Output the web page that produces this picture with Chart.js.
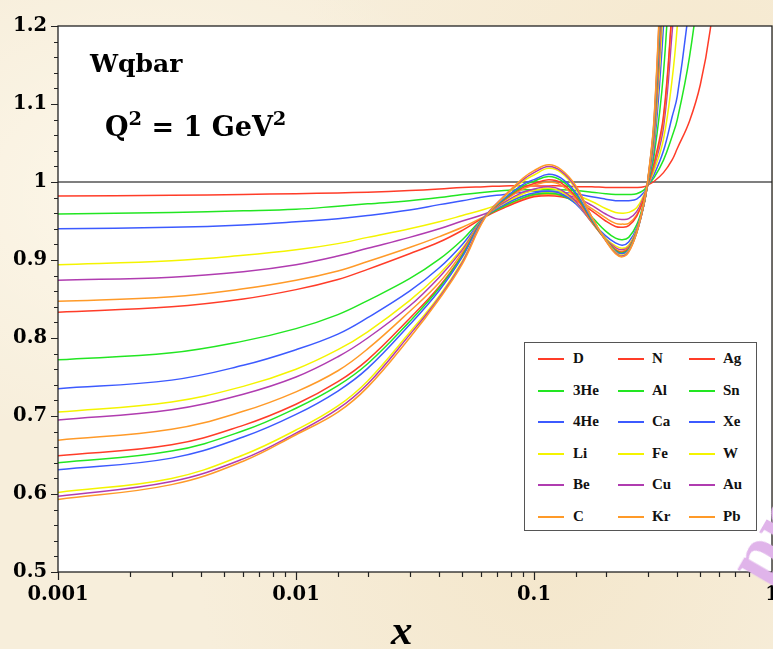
<!DOCTYPE html>
<html>
<head>
<meta charset="utf-8">
<script src="https://cdn.jsdelivr.net/npm/chart.js@4.4.1/dist/chart.umd.min.js"></script>
<style>
  html, body { margin: 0; padding: 0; }
  #wrap {
    position: relative; width: 773px; height: 649px; overflow: hidden;
    background-color: #f7eedb;
    background-image:
      radial-gradient(ellipse at 20% 30%, rgba(255,251,240,0.7), rgba(255,251,240,0) 40%),
      radial-gradient(ellipse at 70% 85%, rgba(242,226,194,0.6), rgba(242,226,194,0) 45%),
      radial-gradient(ellipse at 90% 10%, rgba(245,230,200,0.6), rgba(245,230,200,0) 40%);
    font-family: "DejaVu Serif", "Liberation Serif", serif;
  }
  canvas { position: absolute; left: 0; top: 0; }
  .ann { position: absolute; font-weight: bold; color: #000; white-space: nowrap; line-height: 1; }
  .ann sup { font-size: 0.72em; vertical-align: 0.55em; line-height: 0; }
  #legend { position: absolute; left: 524px; top: 342px; width: 233px; height: 189px;
            background: #fff; border: 1px solid #555; box-sizing: border-box;
            font-family: "Liberation Serif", serif; }
  .sw { position: absolute; height: 2px; width: 26px; }
  .lt { position: absolute; font-weight: bold; font-size: 15px; line-height: 1; color: #111; }
  #wm { position: absolute; left: 712px; top: 556px; color: #e0b4ea; font-weight: bold;
        font-family: "Liberation Serif", serif;
        font-size: 76px; line-height: 1; transform: rotate(-60deg); transform-origin: 0 0; }
</style>
</head>
<body>
<div id="wrap">
  <canvas id="c" width="773" height="649"></canvas>
  <div class="ann" id="t1" style="left:90px; top:51px; font-size:25px;">Wqbar</div>
  <div class="ann" id="t2" style="left:105px; top:113px; font-size:27px;">Q<sup>2</sup> = 1 GeV<sup>2</sup></div>
  <div class="ann" id="xt" style="left:391px; top:608px; font-size:43px; font-style:italic; font-family:'Liberation Serif', serif;">x</div>
  <div id="legend"></div>
  <div id="wm">pr</div>
</div>
<script>
// ---- data ----
const xs = [0.001, 0.003, 0.006, 0.01, 0.015, 0.02, 0.03, 0.04, 0.05, 0.062,
            0.075, 0.09, 0.1, 0.115, 0.13, 0.15, 0.175, 0.2, 0.22, 0.235,
            0.25, 0.27, 0.29, 0.3, 0.32, 0.35, 0.38, 0.4, 0.45, 0.5, 0.55, 0.6];

const D   = [0.982,0.983,0.984,0.985,0.986,0.987,0.989,0.991,0.993,0.994,
             0.995,0.995,0.995,0.995,0.995,0.994,0.994,0.993,0.993,0.993,
             0.993,0.993,0.994,0.996,1.001,1.012,1.028,1.043,1.078,1.125,1.195,1.30];
const He3 = [0.959,0.961,0.963,0.965,0.969,0.972,0.976,0.980,0.984,0.987,
             0.989,0.990,0.990,0.990,0.990,0.989,0.987,0.985,0.984,0.984,
             0.984,0.985,0.990,0.996,1.006,1.028,1.058,1.080,1.160,1.270,1.42,1.60];
const He4 = [0.940,0.942,0.945,0.949,0.953,0.957,0.964,0.971,0.976,0.981,
             0.984,0.987,0.988,0.988,0.987,0.985,0.981,0.978,0.976,0.976,
             0.976,0.978,0.987,0.995,1.010,1.040,1.083,1.110,1.230,1.380];
const Li  = [0.894,0.899,0.906,0.913,0.921,0.929,0.940,0.949,0.957,0.965,
             0.974,0.982,0.985,0.987,0.986,0.983,0.975,0.966,0.961,0.960,
             0.961,0.967,0.984,0.995,1.015,1.055,1.130,1.200,1.420];
const Be  = [0.874,0.878,0.885,0.894,0.905,0.915,0.929,0.940,0.950,0.959,
             0.970,0.979,0.983,0.985,0.984,0.980,0.970,0.959,0.953,0.952,
             0.953,0.962,0.982,0.995,1.020,1.070,1.190,1.280];
const C   = [0.847,0.853,0.863,0.874,0.886,0.898,0.916,0.930,0.942,0.956,
             0.968,0.978,0.982,0.984,0.983,0.978,0.966,0.954,0.947,0.946,
             0.947,0.958,0.980,0.995,1.022,1.080,1.215,1.310];
const N   = [0.833,0.840,0.850,0.862,0.875,0.888,0.908,0.923,0.938,0.955,
             0.967,0.977,0.981,0.9825,0.981,0.976,0.963,0.950,0.943,0.942,
             0.944,0.956,0.979,0.995,1.025,1.085,1.220,1.320];
const Al  = [0.772,0.781,0.796,0.812,0.830,0.848,0.876,0.901,0.926,0.955,
             0.969,0.980,0.984,0.9855,0.983,0.973,0.955,0.937,0.928,0.926,
             0.929,0.945,0.975,0.996,1.035,1.140,1.320];
const Ca  = [0.735,0.746,0.765,0.785,0.805,0.826,0.860,0.890,0.920,0.955,
             0.971,0.982,0.986,0.988,0.985,0.972,0.949,0.931,0.922,0.919,
             0.923,0.941,0.973,0.997,1.045,1.200,1.400];
const Fe  = [0.705,0.718,0.738,0.760,0.785,0.808,0.848,0.882,0.915,0.955,
             0.973,0.985,0.989,0.992,0.988,0.974,0.948,0.928,0.918,0.915,
             0.919,0.939,0.972,0.998,1.055,1.230,1.450];
const Cu  = [0.695,0.708,0.728,0.750,0.776,0.800,0.841,0.878,0.913,0.955,
             0.974,0.987,0.991,0.994,0.990,0.975,0.948,0.927,0.916,0.913,
             0.917,0.938,0.972,0.998,1.060,1.250];
const Kr  = [0.669,0.683,0.706,0.731,0.758,0.786,0.834,0.871,0.910,0.955,
             0.976,0.991,0.996,1.000,0.996,0.979,0.949,0.926,0.914,0.911,
             0.916,0.937,0.972,0.998,1.065,1.270];
const Ag  = [0.649,0.663,0.688,0.715,0.744,0.772,0.825,0.866,0.907,0.955,
             0.977,0.993,0.998,1.003,0.999,0.981,0.950,0.926,0.913,0.910,
             0.915,0.936,0.972,0.998,1.070,1.290];
const Sn  = [0.640,0.655,0.681,0.710,0.739,0.767,0.821,0.864,0.906,0.955,
             0.978,0.995,1.001,1.007,1.002,0.984,0.951,0.926,0.912,0.909,
             0.914,0.936,0.972,0.999,1.072,1.300];
const Xe  = [0.631,0.646,0.673,0.702,0.732,0.761,0.817,0.861,0.904,0.955,
             0.979,0.997,1.003,1.010,1.005,0.986,0.952,0.926,0.911,0.908,
             0.913,0.935,0.972,0.999,1.075,1.310];
const W   = [0.602,0.620,0.650,0.682,0.713,0.745,0.807,0.854,0.899,0.954,
             0.981,1.001,1.009,1.0175,1.012,0.991,0.954,0.926,0.910,0.906,
             0.912,0.935,0.973,1.000,1.080,1.330];
const Au  = [0.597,0.616,0.645,0.678,0.709,0.741,0.804,0.852,0.897,0.954,
             0.982,1.003,1.012,1.020,1.014,0.993,0.955,0.925,0.909,0.905,
             0.911,0.935,0.973,1.000,1.082,1.340];
const Pb  = [0.593,0.612,0.642,0.676,0.705,0.737,0.800,0.850,0.895,0.953,
             0.982,1.005,1.0145,1.022,1.016,0.995,0.955,0.925,0.908,0.904,
             0.910,0.935,0.974,1.000,1.085,1.350];

const names  = ['D','3He','4He','Li','Be','C','N','Al','Ca','Fe','Cu','Kr','Ag','Sn','Xe','W','Au','Pb'];
const series = [D, He3, He4, Li, Be, C, N, Al, Ca, Fe, Cu, Kr, Ag, Sn, Xe, W, Au, Pb];
const palette = ['#ff3c28', '#22e622', '#3c5aff', '#f4f400', '#b03cb0', '#ff9a28'];

const xRange = [0.001, 1];
const yRange = [0.5, 1.2];
const yStep = 0.02;
const unity = 1;

// ---- legend (HTML, real text) ----
const legend = document.getElementById('legend');
const colX = [[13, 48], [93, 127], [164, 198]];
names.forEach((nm, i) => {
  const col = Math.floor(i / 6), row = i % 6;
  const cy = 16 + row * 31.5;
  const sw = document.createElement('div');
  sw.className = 'sw';
  sw.style.left = colX[col][0] + 'px';
  sw.style.top = (cy - 1) + 'px';
  sw.style.background = palette[i % 6];
  legend.appendChild(sw);
  const t = document.createElement('div');
  t.className = 'lt';
  t.style.left = colX[col][1] + 'px';
  t.style.top = (cy - 8) + 'px';
  t.textContent = nm;
  legend.appendChild(t);
});

// ---- chart ----
const datasets = series.map((vals, i) => ({
  label: names[i],
  data: vals.map((v, j) => ({ x: xs[j], y: v })),
  borderColor: palette[i % 6],
  borderWidth: 1.5,
  pointRadius: 0,
  fill: false,
  tension: 0.4,
  order: names.length - i
}));
datasets.push({
  label: 'unity',
  data: [{ x: xRange[0], y: unity }, { x: xRange[1], y: unity }],
  borderColor: '#000',
  borderWidth: 1.2,
  pointRadius: 0,
  fill: false,
  order: 100
});

const framePlugin = {
  id: 'frame',
  beforeDraw(chart) {
    const { ctx, chartArea: a } = chart;
    ctx.save();
    ctx.fillStyle = '#ffffff';
    ctx.fillRect(a.left, a.top, a.right - a.left, a.bottom - a.top);
    ctx.restore();
  },
  afterDraw(chart) {
    const { ctx, chartArea: a } = chart;
    const sx = chart.scales.x, sy = chart.scales.y;
    ctx.save();
    ctx.strokeStyle = '#222';
    ctx.lineWidth = 1.3;
    ctx.strokeRect(a.left, a.top, a.right - a.left, a.bottom - a.top);
    ctx.lineWidth = 1.2;
    ctx.beginPath();
    sx.ticks.forEach(t => {
      const px = Math.round(sx.getPixelForValue(t.value)) + 0.5;
      const lg = Math.log10(t.value);
      const major = Math.abs(lg - Math.round(lg)) < 1e-6;
      ctx.moveTo(px, a.bottom);
      ctx.lineTo(px, a.bottom + (major ? 8 : 5));
    });
    sy.ticks.forEach(t => {
      const py = Math.round(sy.getPixelForValue(t.value)) + 0.5;
      const major = Math.abs(t.value * 10 - Math.round(t.value * 10)) < 1e-6;
      ctx.moveTo(a.left - (major ? 7 : 4), py);
      ctx.lineTo(a.left, py);
    });
    ctx.stroke();
    ctx.restore();
  }
};

new Chart(document.getElementById('c'), {
  type: 'line',
  data: { datasets },
  plugins: [framePlugin],
  options: {
    responsive: false,
    animation: false,
    events: [],
    layout: { padding: { top: 26, right: 1, left: 0, bottom: 0 } },
    plugins: { legend: { display: false }, tooltip: { enabled: false }, title: { display: false } },
    scales: {
      x: {
        type: 'logarithmic',
        min: xRange[0], max: xRange[1],
        grid: { display: false, drawTicks: false },
        border: { display: false },
        ticks: {
          autoSkip: false, maxRotation: 0, padding: 11,
          color: '#000',
          font: { family: 'DejaVu Serif', weight: 'bold', size: 19.5 },
          callback(v) {
            const lg = Math.log10(v);
            if (Math.abs(lg - Math.round(lg)) > 1e-6) return '';
            const e = Math.round(lg);
            return e >= 0 ? String(Math.pow(10, e)) : Math.pow(10, e).toFixed(-e);
          }
        },
        afterFit(s) { s.height = 77; s.paddingLeft = 0; s.paddingRight = 0; }
      },
      y: {
        type: 'linear',
        min: yRange[0], max: yRange[1],
        grid: { display: false, drawTicks: false },
        border: { display: false },
        ticks: {
          stepSize: yStep, autoSkip: false, padding: 11,
          color: '#000',
          font: { family: 'DejaVu Serif', weight: 'bold', size: 19.5 },
          callback(v) {
            if (Math.abs(v * 10 - Math.round(v * 10)) > 1e-6) return '';
            return String(Math.round(v * 10) / 10);
          }
        },
        afterFit(s) { s.width = 58; s.paddingTop = 0; s.paddingBottom = 0; }
      }
    }
  }
});
</script>
</body>
</html>
